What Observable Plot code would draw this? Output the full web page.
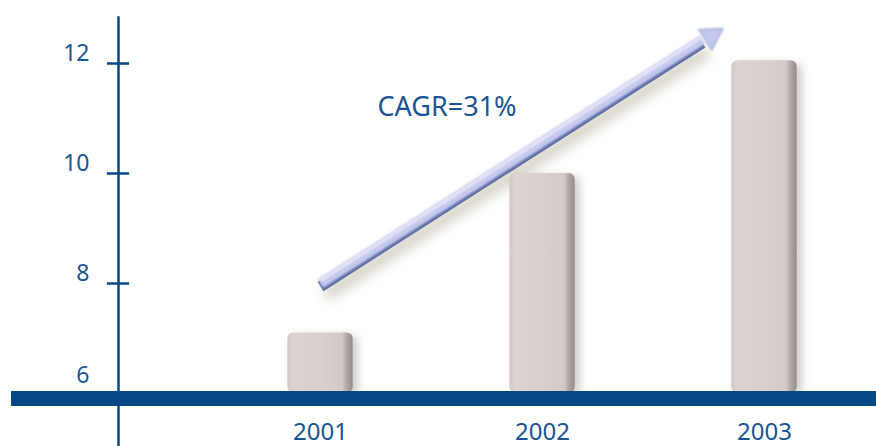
<!DOCTYPE html>
<html><head><meta charset="utf-8">
<script src="https://cdn.jsdelivr.net/npm/d3@7"></script>
<script src="https://cdn.jsdelivr.net/npm/@observablehq/plot@0.6"></script>
<style>body{margin:0;background:#fff;} svg{display:block}</style>
</head><body><div id="chart"></div>
<script>
// ---- data ----
const years = [2001, 2002, 2003];
const values = [7.1, 10.0, 12.05];
const yTickValues = [8, 10, 12];
const yBaseValue = [6];
const annotationText = ["CAGR=31%"];
const annotationAt = {year: 2001.57, value: 11.2};
const arrowStart = {year: 2001.0, value: 8.0};
const arrowEnd = {year: 2002.72, value: 12.43};
const arrowTip = {year: 2002.76, value: 12.5};

// ---- layout constants ----
const W = 876, H = 446;
const xDomain = [2000.09, 2003.5045];
const axisYear = xDomain[0];
const halfBar = 0.147;
const halfTick = 0.05;
const navy = "#044886";
const textBlue = "#1a5593";
const font = "'Noto Sans', 'Open Sans', sans-serif";

const bars = years.map((y, i) => ({year: y, value: values[i]}));
const seg = {x1: () => arrowStart.year, y1: () => arrowStart.value, x2: () => arrowEnd.year, y2: () => arrowEnd.value};

const svg = Plot.plot({
  width: W, height: H,
  marginLeft: 118, marginRight: 0, marginTop: 63, marginBottom: 53,
  style: {fontFamily: font, background: "#fff", overflow: "visible"},
  x: {domain: xDomain, axis: null},
  y: {domain: [6, 12], axis: null},
  marks: [
    // arrow shadow
    Plot.link([0], {...seg, stroke: "#b0a890", strokeWidth: 14, strokeOpacity: 0.5, dx: 5, dy: 11, ariaDescription: "arrowshadow"}),
    // bars
    Plot.rectY(bars, {x1: d => d.year - halfBar, x2: d => d.year + halfBar, y1: 6, y2: "value",
      fill: "url(#barGrad)", rx: 6, ariaDescription: "bars"}),
    // arrow dark edge
    Plot.link([0], {...seg, stroke: "#5d6ca3", strokeWidth: 11, dy: 3}),
    // arrow body
    Plot.link([0], {...seg, stroke: "#c4c9ee", strokeWidth: 10, ariaDescription: "arrowsoft"}),
    Plot.link([0], {...seg, stroke: "#e6e8f9", strokeWidth: 3, dy: -3, ariaDescription: "arrowsoft"}),
    // arrow head
    Plot.dot([0], {x: () => arrowTip.year, y: () => arrowTip.value, symbol: "triangle", r: 9, rotate: 57.5,
      fill: "#c3c8ee", stroke: "#8a94c4", strokeWidth: 1, ariaDescription: "arrowsoft"}),
    // annotation
    Plot.text(annotationText, {x: () => annotationAt.year, y: () => annotationAt.value, text: d => d,
      fill: textBlue, fontSize: 27, textAnchor: "middle", lineAnchor: "middle"}),
    // vertical axis line
    Plot.ruleX([axisYear], {x: d => d, y1: 5.0, y2: 12.85, stroke: navy, strokeWidth: 2.5}),
    // y ticks
    Plot.ruleY(yTickValues, {y: d => d, x1: axisYear - halfTick, x2: axisYear + halfTick, stroke: navy, strokeWidth: 2.5}),
    Plot.text(yTickValues, {x: () => axisYear, y: d => d, text: d => String(d), dx: -29, dy: -10,
      textAnchor: "end", lineAnchor: "middle", fill: textBlue, fontSize: 23}),
    Plot.text(yBaseValue, {x: () => axisYear, y: d => d, text: d => String(d), dx: -29, dy: -18,
      textAnchor: "end", lineAnchor: "middle", fill: textBlue, fontSize: 23}),
    // baseline
    Plot.ruleY(yBaseValue, {y: d => d, x1: axisYear - 0.482, x2: xDomain[1] + 0.1, stroke: navy, strokeWidth: 15, dy: 5}),
    // year labels
    Plot.text(years, {x: d => d, y: () => 6, text: d => String(d), dy: 39, fill: textBlue, fontSize: 24,
      textAnchor: "middle", lineAnchor: "middle"})
  ]
});

const defs = d3.select(svg).insert("defs", ":first-child");
const g = defs.append("linearGradient").attr("id", "barGrad").attr("x1", 0).attr("x2", 1).attr("y1", 0).attr("y2", 0);
[[0, "#d2c8c5"], [0.08, "#dcd3d0"], [0.5, "#dad0cd"], [0.84, "#d3c9c6"], [0.9, "#b4aaa8"], [1, "#968b8a"]]
  .forEach(([o, c]) => g.append("stop").attr("offset", o).attr("stop-color", c));
const f = defs.append("filter").attr("id", "shadow").attr("x", "-30%").attr("y", "-10%").attr("width", "170%").attr("height", "130%");
f.append("feDropShadow").attr("dx", 5).attr("dy", 3).attr("stdDeviation", 4).attr("flood-color", "#8a8070").attr("flood-opacity", 0.4);
const fb = defs.append("filter").attr("id", "blur").attr("x", "-20%").attr("y", "-50%").attr("width", "140%").attr("height", "200%");
fb.append("feGaussianBlur").attr("stdDeviation", 6);
const fs = defs.append("filter").attr("id", "soft").attr("x", "-10%").attr("y", "-20%").attr("width", "120%").attr("height", "140%");
fs.append("feGaussianBlur").attr("stdDeviation", 0.8);
d3.select(svg).selectAll('[aria-description="bars"]').attr("filter", "url(#shadow)");
d3.select(svg).selectAll('[aria-description="arrowshadow"]').attr("filter", "url(#blur)");
d3.select(svg).selectAll('[aria-description="arrowsoft"]').attr("filter", "url(#soft)");

document.getElementById("chart").appendChild(svg);
</script>
</body></html>
